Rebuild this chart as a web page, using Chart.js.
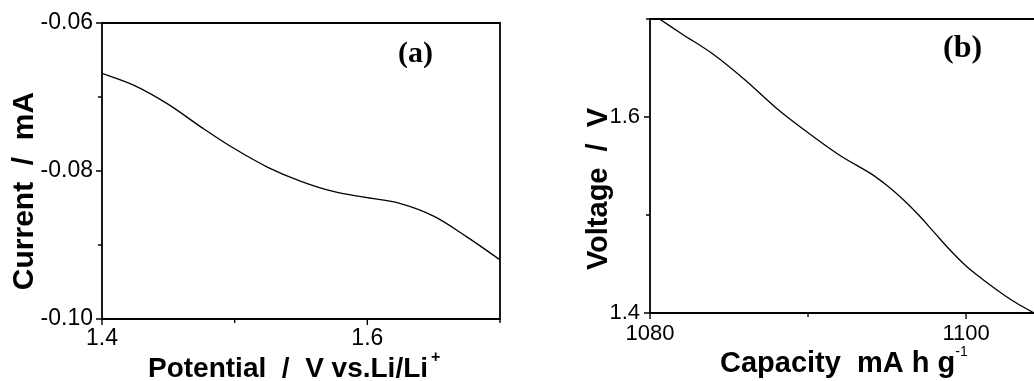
<!DOCTYPE html>
<html><head><meta charset="utf-8">
<script src="https://cdn.jsdelivr.net/npm/chart.js@4.4.0/dist/chart.umd.min.js"></script>
<style>
html,body{margin:0;padding:0;background:#fff;width:1034px;height:381px;overflow:hidden;}
#ca{position:absolute;left:0;top:0;}
#cb{position:absolute;left:520px;top:0;}
</style></head><body>
<canvas id="ca" width="520" height="381"></canvas>
<canvas id="cb" width="514" height="381"></canvas>
<script>
// ---- data (a) ----
const potential = [1.400,1.425,1.450,1.475,1.500,1.525,1.550,1.575,1.600,1.625,1.650,1.675,1.700];
const current   = [-0.0668,-0.0685,-0.0710,-0.0741,-0.0770,-0.0795,-0.0814,-0.0828,-0.0836,-0.0844,-0.0861,-0.0889,-0.0920];
const potentialTicks  = [1.4,1.5,1.6,1.7];
const potentialLabels = [1.4,1.6];
const currentTicks  = [-0.10,-0.09,-0.08,-0.07,-0.06];
const currentLabels = [-0.10,-0.08,-0.06];
// ---- data (b) ----
const capacity = [1080.6,1082,1084,1086,1088,1090,1092,1094,1095,1096,1097,1098,1099,1100,1101,1102,1103,1104.3];
const voltage  = [1.700,1.685,1.664,1.638,1.609,1.584,1.561,1.542,1.530,1.516,1.500,1.482,1.464,1.448,1.435,1.423,1.412,1.400];
const capacityTicks  = [1080,1090,1100];
const capacityLabels = [1080,1100];
const voltageTicks  = [1.4,1.5,1.6,1.7];
const voltageLabels = [1.4,1.6];

const SANS = '"Liberation Sans", Arial, sans-serif';
const SERIF = '"Liberation Serif", "Times New Roman", serif';
const isIn = (v, arr) => arr.some(a => Math.abs(a - v) < 1e-9);

function framePlugin(cfg) {
  return {
    id: 'frame' + cfg.id,
    afterDatasetsDraw(chart) {
      const {ctx, chartArea: {left, right, top, bottom}, scales: {x, y}} = chart;
      ctx.save();
      ctx.strokeStyle = '#000';
      ctx.lineWidth = 1.8;
      ctx.beginPath();
      if (cfg.box) {
        ctx.rect(left, top, right - left, bottom - top);
      } else {
        ctx.moveTo(right + 2, top); ctx.lineTo(left, top);
        ctx.lineTo(left, bottom); ctx.lineTo(right + 2, bottom);
      }
      ctx.stroke();
      ctx.lineWidth = 1.4;
      ctx.beginPath();
      cfg.xTicks.forEach(v => {
        const px = x.getPixelForValue(v);
        const L = isIn(v, cfg.xLabels) ? 6 : 4;
        ctx.moveTo(px, bottom); ctx.lineTo(px, bottom + L);
      });
      cfg.yTicks.forEach(v => {
        const py = y.getPixelForValue(v);
        const L = isIn(v, cfg.yLabels) ? 6 : 4;
        ctx.moveTo(left, py); ctx.lineTo(left - L, py);
      });
      ctx.stroke();
      ctx.restore();
    },
    afterDraw(chart) {
      const ctx = chart.ctx;
      ctx.save();
      ctx.fillStyle = '#000';
      ctx.textBaseline = 'alphabetic';
      // x title
      ctx.font = 'bold ' + cfg.xt.size + 'px ' + SANS;
      ctx.textAlign = 'left';
      ctx.fillText(cfg.xt.text, cfg.xt.x, cfg.xt.y);
      const w = ctx.measureText(cfg.xt.text).width;
      ctx.font = cfg.xt.supFont;
      ctx.fillText(cfg.xt.sup, cfg.xt.x + w + cfg.xt.supDx, cfg.xt.supY);
      // y title
      ctx.font = 'bold ' + cfg.yt.size + 'px ' + SANS;
      ctx.textAlign = 'center';
      ctx.translate(cfg.yt.x, cfg.yt.y);
      ctx.rotate(-Math.PI / 2);
      ctx.fillText(cfg.yt.text, 0, 0);
      ctx.setTransform(1, 0, 0, 1, 0, 0);
      // panel label
      ctx.font = 'bold ' + cfg.pl.size + 'px ' + SERIF;
      ctx.textAlign = 'left';
      ctx.fillText(cfg.pl.text, cfg.pl.x, cfg.pl.y);
      ctx.restore();
    }
  };
}

function makeChart(el, xs, ys, c) {
  return new Chart(document.getElementById(el), {
    type: 'line',
    data: { datasets: [{
      data: xs.map((v, i) => ({x: v, y: ys[i]})),
      borderColor: '#000', borderWidth: 1.3, pointRadius: 0,
      tension: 0.35, fill: false
    }]},
    options: {
      responsive: false, animation: false, devicePixelRatio: 1,
      layout: { padding: c.padding },
      plugins: { legend: {display: false}, tooltip: {enabled: false} },
      scales: {
        x: {
          type: 'linear', min: c.xMin, max: c.xMax,
          afterBuildTicks: s => { s.ticks = c.xTicks.map(v => ({value: v})); },
          afterFit: s => { s.height = c.xH; },
          grid: { display: false, drawTicks: true, tickLength: 6 },
          border: { display: false },
          ticks: { autoSkip: false, maxRotation: 0, padding: c.xPad, color: '#000',
            font: { family: SANS, size: c.fs },
            callback: v => isIn(v, c.xLabels) ? c.xFmt(v) : '' }
        },
        y: {
          type: 'linear', min: c.yMin, max: c.yMax,
          afterBuildTicks: s => { s.ticks = c.yTicks.map(v => ({value: v})); },
          afterFit: s => { s.width = c.yW; },
          grid: { display: false, drawTicks: true, tickLength: 6 },
          border: { display: false },
          ticks: { autoSkip: false, padding: c.yPad, color: '#000',
            font: { family: SANS, size: c.fs },
            callback: v => isIn(v, c.yLabels) ? c.yFmt(v) : '' }
        }
      }
    },
    plugins: [framePlugin(c)]
  });
}

makeChart('ca', potential, current, {
  id: 'a', box: true, fs: 23,
  padding: {left: 0, top: 23, right: 20, bottom: 0},
  xMin: 1.4, xMax: 1.7, yMin: -0.10, yMax: -0.06,
  xTicks: potentialTicks, xLabels: potentialLabels,
  yTicks: currentTicks, yLabels: currentLabels,
  xFmt: v => v.toFixed(1), yFmt: v => v.toFixed(2),
  xH: 62, yW: 102, xPad: 0, yPad: 3,
  xt: {text: 'Potential  /  V vs.Li/Li', size: 28, x: 148, y: 377, sup: '+', supFont: 'bold 16px ' + SANS, supDx: 3, supY: 362},
  yt: {text: 'Current  /  mA', size: 30, x: 33, y: 191},
  pl: {text: '(a)', size: 30, x: 398, y: 62}
});

makeChart('cb', capacity, voltage, {
  id: 'b', box: false, fs: 22,
  padding: {left: 0, top: 19, right: 0, bottom: 0},
  xMin: 1080, xMax: 1104.3, yMin: 1.4, yMax: 1.7,
  xTicks: capacityTicks, xLabels: capacityLabels,
  yTicks: voltageTicks, yLabels: voltageLabels,
  xFmt: v => String(v), yFmt: v => v.toFixed(1),
  xH: 68, yW: 130, xPad: 2, yPad: 4,
  xt: {text: 'Capacity  mA h g', size: 29, x: 200, y: 372, sup: '-1', supFont: '14px ' + SANS, supDx: 0, supY: 356},
  yt: {text: 'Voltage  /  V', size: 29, x: 87, y: 189},
  pl: {text: '(b)', size: 32, x: 423, y: 57}
});
</script>
</body></html>
